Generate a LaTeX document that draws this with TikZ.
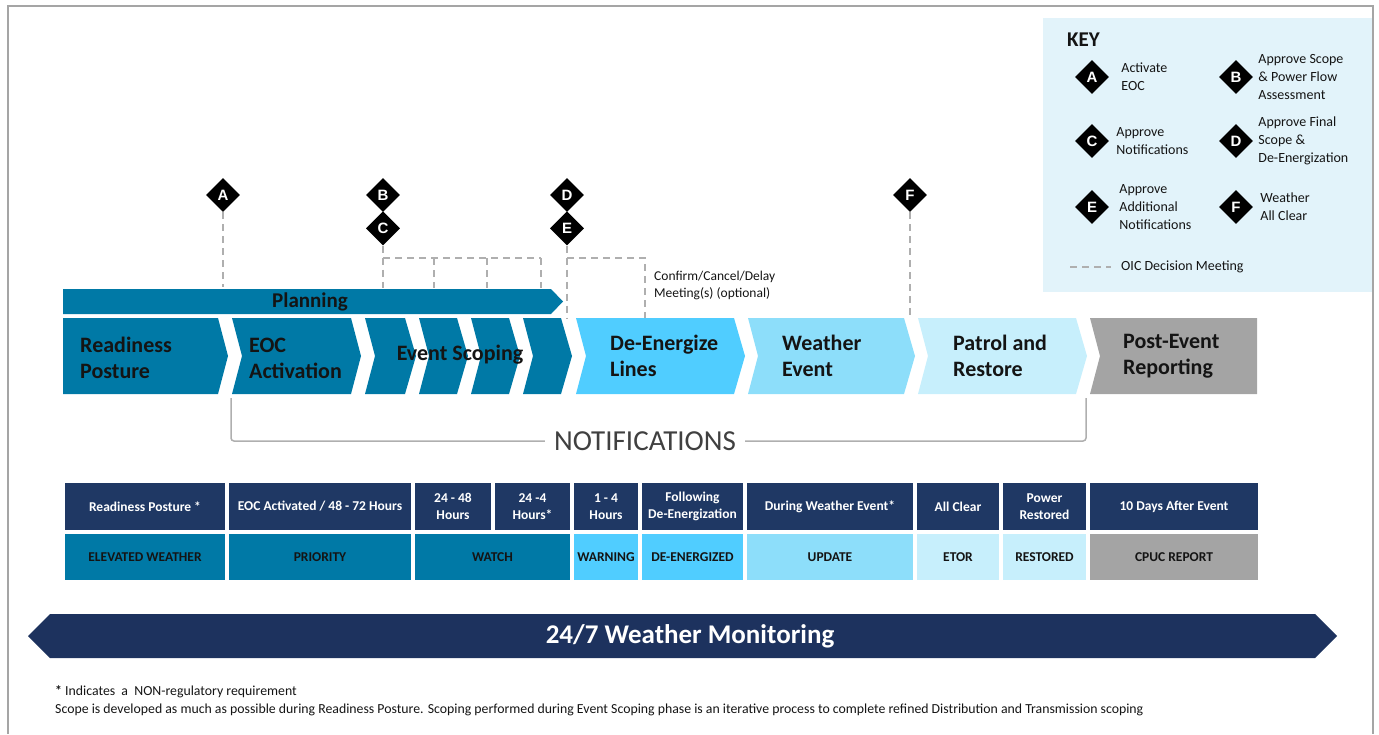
\documentclass[tikz,border=0pt]{standalone}
\usepackage{fontspec}
\setmainfont{Carlito}
\newfontfamily\lett{Liberation Sans}
\usetikzlibrary{shapes.geometric,positioning}

\definecolor{cTeal}{RGB}{0,121,166}
\definecolor{cSky}{RGB}{80,205,255}
\definecolor{cWeather}{RGB}{141,222,250}
\definecolor{cPatrol}{RGB}{199,239,252}
\definecolor{cPost}{RGB}{164,164,164}
\definecolor{cNavy}{RGB}{31,56,100}
\definecolor{cMon}{RGB}{29,50,94}
\definecolor{cKey}{RGB}{226,243,250}
\definecolor{cDash}{RGB}{175,175,175}
\definecolor{cFrame}{RGB}{165,165,165}
\definecolor{cTxt}{RGB}{20,20,20}

\begin{document}
\begin{tikzpicture}[x=1pt,y=-1pt,
  dia/.style={diamond,fill=black,minimum width=34pt,minimum height=34pt,inner sep=0pt,
    text=white,font=\lett\bfseries\fontsize{15}{15}\selectfont},
  meet/.style={draw=cDash,line width=1.4pt,dash pattern=on 7pt off 5pt},
  phase/.style={anchor=west,align=left,inner sep=0pt,text=cTxt,font=\bfseries\fontsize{22}{26}\selectfont},
  keytxt/.style={anchor=west,align=left,inner sep=0pt,text=cTxt,font=\fontsize{14}{18}\selectfont},
  head/.style={fill=cNavy,text=white,minimum height=47pt,inner sep=0pt,align=center,
    font=\bfseries\fontsize{13.5}{17}\selectfont},
  level/.style={minimum height=46pt,inner sep=0pt,align=center,text=cTxt,
    font=\bfseries\fontsize{13.5}{17}\selectfont},
  note/.style={anchor=west,inner sep=0pt,text=cTxt,font=\fontsize{13.8}{16}\selectfont}]
  \useasboundingbox (0,0) rectangle (1379,734);

  % key
  \fill[cKey] (1043,18) rectangle (1372,292);
  \draw[cFrame,line width=2pt] (8,734) -- (8,6) -- (1373,6) -- (1373,734);
  \node[anchor=west,inner sep=0pt,text=cTxt,font=\bfseries\fontsize{21}{21}\selectfont] (key) at (1067,40) {KEY};
  \node[dia] (kA) at (1092,77) {A};
  \node[dia] (kB) at (1236,77) {B};
  \node[dia] (kC) at (1092,141) {C};
  \node[dia] (kD) at (1236,141) {D};
  \node[dia] (kE) at (1092,207) {E};
  \node[dia] (kF) at (1236,207) {F};
  \node[keytxt,right=12pt of kA] (tA) {Activate\\EOC};
  \node[keytxt,right=5pt of kB] (tB) {Approve Scope\\\& Power Flow\\Assessment};
  \node[keytxt,right=7pt of kC] (tC) {Approve\\Notifications};
  \node[keytxt,right=5pt of kD] (tD) {Approve Final\\Scope \&\\De-Energization};
  \node[keytxt,right=10pt of kE] (tE) {Approve\\Additional\\Notifications};
  \node[keytxt,right=7pt of kF] (tF) {Weather\\All Clear};
  \coordinate (m0) at (1070,267);
  \node[keytxt] (tM) at (1121,267) {OIC Decision Meeting};
  \draw[meet] (m0) -- (tM.west -| 1111,0);

  % planning
  \fill[cTeal] (63,289) -- (551,289) -- (563,301.5) -- (551,314) -- (63,314) -- cycle;
  \node[text=cTxt,font=\bfseries\fontsize{21}{21}\selectfont] (plan) at (310,302) {Planning};

  % phases
  \foreach \a/\b/\c/\l/\r in {63/228/cTeal/0/10, 232/361/cTeal/10/10, 365/416/cTeal/10/11,
      419/468/cTeal/10/11, 471/520/cTeal/10/11, 523/572/cTeal/10/11, 576/745/cSky/10/11,
      748/915/cWeather/10/11, 918/1087/cPatrol/10/11, 1090/1257/cPost/10/0}
    \fill[\c] (\a,318) -- ({\b-\r},318) -- (\b,356) -- ({\b-\r},394) -- (\a,394) -- ({\a+\l},356) -- cycle;
  \node[phase] (p1) at (80,358) {Readiness\\Posture};
  \node[phase] (p2) at (249,358) {EOC\\Activation};
  \node[inner sep=0pt,text=cTxt,font=\bfseries\fontsize{22}{26}\selectfont] (p3) at (460,355) {Event Scoping};
  \node[phase] (p4) at (610,356) {De-Energize\\Lines};
  \node[phase] (p5) at (782,356) {Weather\\Event};
  \node[phase] (p6) at (953,356) {Patrol and\\Restore};
  \node[phase] (p7) at (1123,356) {Post-Event\\Reporting};

  % decisions
  \node[dia] (dA) at (223,195) {A};
  \node[dia] (dB) at (383,195) {B};
  \node[dia,below=-1pt of dB] (dC) {C};
  \node[dia] (dD) at (567,195) {D};
  \node[dia,below=-1pt of dD] (dE) {E};
  \node[dia] (dF) at (910,195) {F};
  \coordinate (eA) at (223,287);
  \coordinate (eC) at (383,288);
  \coordinate (eE) at (567,318);
  \coordinate (eF) at (910,316);
  \draw[meet] (dA.south) -- (eA);
  \draw[meet] (dC.south) -- (eC);
  \draw[meet] (383,258) -- (541,258);
  \foreach \x in {434,487,541}
    \draw[meet] (\x,258) -- (\x,288);
  \draw[meet] (dE.south) -- (eE);
  \draw[meet] (567,258) -- (645,258) -- (645,318);
  \draw[meet] (dF.south) -- (eF);
  \node[anchor=west,align=left,inner sep=0pt,text=cTxt,font=\fontsize{13.5}{17}\selectfont] (conf) at (654,285)
    {Confirm/Cancel/Delay\\Meeting(s) (optional)};

  % notifications
  \node[text=black!75,inner sep=9pt,font=\fontsize{29}{29}\selectfont] (notif) at (645,441) {NOTIFICATIONS};
  \coordinate (nl) at (231,398);
  \coordinate (nr) at (1086,398);
  \draw[cDash,line width=1.5pt,rounded corners=3pt] (nl) |- (notif.west);
  \draw[cDash,line width=1.5pt,rounded corners=3pt] (notif.east) -| (nr);

  % table
  \foreach \a/\b/\t [count=\i] in {65/225/{Readiness Posture *}, 229/411/{EOC Activated / 48 - 72 Hours},
      415/491/{24 - 48\\Hours}, 495/570/{24 -4\\Hours*}, 574/638/{1 - 4\\Hours},
      642/743/{Following\\De-Energization}, 747/913/{During Weather Event*}, 917/999/{All Clear},
      1003/1086/{Power\\Restored}, 1090/1258/{10 Days After Event}}
    \node[head,minimum width={\b-\a}] (h\i) at ({(\a+\b)/2},506.5) {\t};
  \foreach \a/\b/\c/\t [count=\i] in {65/225/cTeal/{ELEVATED WEATHER}, 229/411/cTeal/PRIORITY,
      415/570/cTeal/WATCH, 574/638/cSky/WARNING, 642/743/cSky/DE-ENERGIZED, 747/913/cWeather/UPDATE,
      917/999/cPatrol/ETOR, 1003/1086/cPatrol/RESTORED, 1090/1258/cPost/{CPUC REPORT}}
    \node[level,fill=\c,minimum width={\b-\a}] (l\i) at ({(\a+\b)/2},557) {\t};

  % monitoring
  \fill[cMon] (28,636) -- (50,614) -- (1315,614) -- (1337,636) -- (1315,658) -- (50,658) -- cycle;
  \node[text=white,font=\bfseries\fontsize{27}{27}\selectfont] (mon) at (690,636) {24/7 Weather Monitoring};

  % notes
  \node[note] (n1) at (55,692) {\textbf{*} Indicates\ \ a\ \ NON-regulatory requirement};
  \node[note] (n2) at (55,710) {Scope is developed as much as possible during Readiness Posture. Scoping performed during Event Scoping phase is an iterative process to complete refined Distribution and Transmission scoping};
\end{tikzpicture}
\end{document}
